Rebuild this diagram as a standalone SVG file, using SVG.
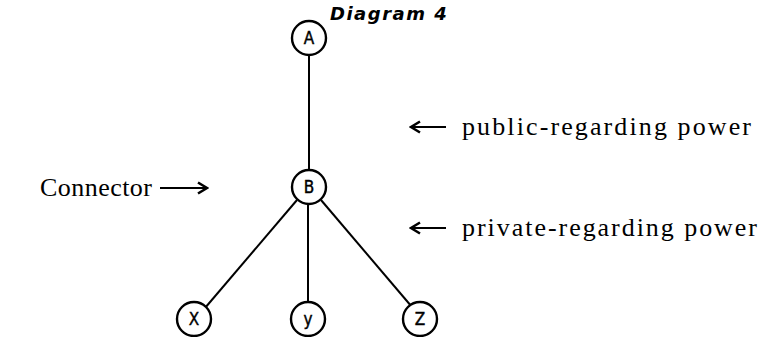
<svg xmlns="http://www.w3.org/2000/svg" width="768" height="337" viewBox="0 0 768 337">
  <defs>
    <marker id="chev" viewBox="0 0 14 14" refX="12" refY="7" markerWidth="14" markerHeight="14" markerUnits="userSpaceOnUse" orient="auto">
      <path d="M3,1.5 L12,7 L3,12.5" fill="none" stroke="#000" stroke-width="2.6" stroke-linejoin="miter"/>
    </marker>
  </defs>
  <style>
    .node circle { fill: #fff; stroke: #000; stroke-width: 2.4; }
    .node text { font-family: "DejaVu Sans Condensed", "DejaVu Sans", sans-serif; font-size: 17px; text-anchor: middle; fill: #000; stroke: #000; stroke-width: 0.4; }
    .edge { stroke: #000; stroke-width: 2; fill: none; }
    .label { font-family: "Liberation Serif", serif; font-size: 26px; fill: #000; }
    .title { font-family: "DejaVu Sans", sans-serif; font-weight: bold; font-style: italic; font-size: 18px; fill: #000; letter-spacing: 1.5px; }
  </style>
  <rect width="768" height="337" fill="#fff"/>
  <text class="title" x="330" y="20">Diagram 4</text>

  <g id="connectors">
    <line class="edge" x1="309" y1="56" x2="309" y2="169"/>
    <line class="edge" x1="297" y1="200" x2="205" y2="308"/>
    <line class="edge" x1="308" y1="204" x2="308" y2="302"/>
    <line class="edge" x1="321" y1="200" x2="412" y2="307"/>
    <line class="edge" x1="160" y1="188" x2="207" y2="188" marker-end="url(#chev)"/>
    <line class="edge" x1="446" y1="127" x2="411" y2="127" marker-end="url(#chev)"/>
    <line class="edge" x1="446" y1="228" x2="411" y2="228" marker-end="url(#chev)"/>
  </g>

  <g id="node-A" class="node"><circle cx="309" cy="38" r="17"/><text x="309" y="44">A</text></g>
  <g id="node-B" class="node"><circle cx="309" cy="187" r="17"/><text x="309" y="193">B</text></g>
  <g id="node-X" class="node"><circle cx="194" cy="319" r="17"/><text x="194" y="325">X</text></g>
  <g id="node-y" class="node"><circle cx="308" cy="319" r="17"/><text x="308" y="325">y</text></g>
  <g id="node-Z" class="node"><circle cx="420" cy="319" r="17"/><text x="420" y="325">Z</text></g>

  <text class="label" x="40" y="196" textLength="112" lengthAdjust="spacing">Connector</text>
  <text class="label" x="462" y="135" textLength="289" lengthAdjust="spacing">public-regarding power</text>
  <text class="label" x="462" y="236" textLength="295" lengthAdjust="spacing">private-regarding power</text>
</svg>
